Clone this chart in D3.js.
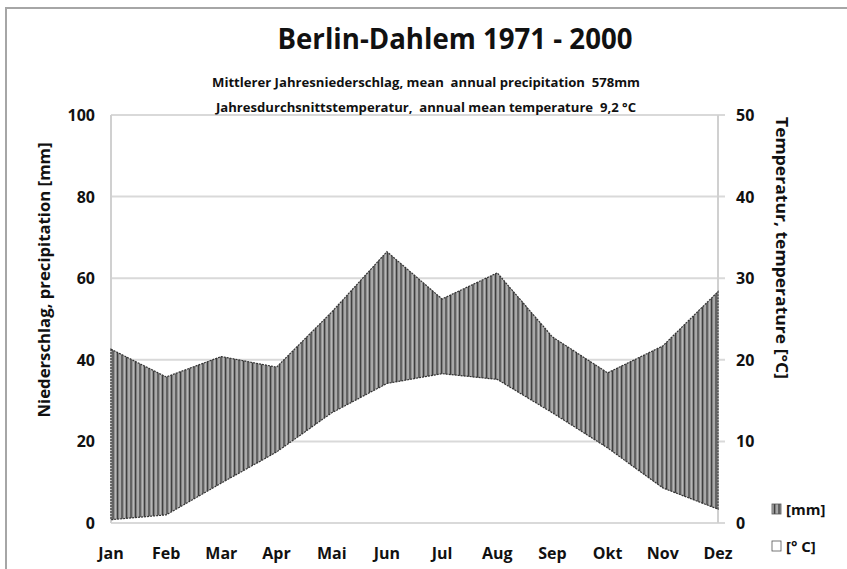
<!DOCTYPE html>
<html>
<head>
<meta charset="utf-8">
<script src="https://cdn.jsdelivr.net/npm/d3@7"></script>
<style>
body { margin: 0; background: #fff; }
svg text { font-family: "Open Sans", "DejaVu Sans", sans-serif; font-weight: bold; fill: #111; white-space: pre; }
</style>
</head>
<body>
<svg id="chart" width="847" height="569"></svg>
<script>
var months = ["Jan", "Feb", "Mar", "Apr", "Mai", "Jun", "Jul", "Aug", "Sep", "Okt", "Nov", "Dez"];
var precip = [42.6, 35.8, 40.8, 38.2, 51.7, 66.5, 54.9, 61.3, 45.6, 36.8, 43.4, 56.7];
var temp = [0.4, 1.0, 4.9, 8.7, 13.5, 17.1, 18.3, 17.6, 13.5, 9.2, 4.3, 1.7];
var precipTicks = [0, 20, 40, 60, 80, 100];
var tempTicks = [0, 10, 20, 30, 40, 50];

var svg = d3.select("#chart");
var pLeft = 111, pRight = 718, pTop = 115, pBottom = 523;

var x = d3.scalePoint().domain(months).range([pLeft, pRight]);
var yP = d3.scaleLinear().domain([0, 100]).range([pBottom, pTop]);
var yT = d3.scaleLinear().domain([0, 50]).range([pBottom, pTop]);

// frame
svg.append("rect")
	.attr("x", 6).attr("y", 8)
	.attr("width", 900).attr("height", 700)
	.attr("fill", "none")
	.attr("stroke", "#a6a6a6")
	.attr("stroke-width", 2);

// hatch pattern
var defs = svg.append("defs");
var pat = defs.append("pattern")
	.attr("id", "hatch")
	.attr("patternUnits", "userSpaceOnUse")
	.attr("width", 4.5).attr("height", 10);
pat.append("rect").attr("width", 4.5).attr("height", 10).attr("fill", "#8c8c8c");
pat.append("rect").attr("x", 0).attr("width", 1.1).attr("height", 10).attr("fill", "#3c3c3c");
pat.append("rect").attr("x", 2.4).attr("width", 1).attr("height", 10).attr("fill", "#c8c8c8");

// gridlines
svg.append("g").selectAll("line")
	.data(precipTicks)
	.enter().append("line")
	.attr("x1", pLeft).attr("x2", pRight + 7)
	.attr("y1", function(d) { return yP(d); })
	.attr("y2", function(d) { return yP(d); })
	.attr("stroke", "#d9d9d9")
	.attr("stroke-width", 2);

svg.append("line")
	.attr("x1", pLeft).attr("x2", pLeft)
	.attr("y1", pTop).attr("y2", pBottom)
	.attr("stroke", "#d0d0d0").attr("stroke-width", 2);
svg.append("line")
	.attr("x1", pRight).attr("x2", pRight)
	.attr("y1", pTop).attr("y2", pBottom)
	.attr("stroke", "#d0d0d0").attr("stroke-width", 2);

// area between temperature and precipitation
var area = d3.area()
	.x(function(d, i) { return x(months[i]); })
	.y0(function(d, i) { return yT(temp[i]); })
	.y1(function(d, i) { return yP(precip[i]); });

svg.append("path")
	.datum(precip)
	.attr("d", area)
	.attr("fill", "url(#hatch)")
	.attr("stroke", "#333")
	.attr("stroke-width", 1.2)
	.attr("stroke-dasharray", "2,1");

// left axis labels
svg.append("g").selectAll("text")
	.data(precipTicks)
	.enter().append("text")
	.attr("x", 95)
	.attr("y", function(d) { return yP(d) + 6; })
	.attr("text-anchor", "end")
	.attr("font-size", 16)
	.text(function(d) { return d; });

// right axis labels
svg.append("g").selectAll("text")
	.data(tempTicks)
	.enter().append("text")
	.attr("x", 736)
	.attr("y", function(d) { return yT(d) + 6; })
	.attr("font-size", 16)
	.text(function(d) { return d; });

// month labels
svg.append("g").selectAll("text")
	.data(months)
	.enter().append("text")
	.attr("x", function(d) { return x(d); })
	.attr("y", 559)
	.attr("text-anchor", "middle")
	.attr("font-size", 16)
	.text(function(d) { return d; });

// titles
svg.append("text")
	.attr("x", 455).attr("y", 49)
	.attr("text-anchor", "middle")
	.attr("font-size", 28)
	.attr("textLength", 355).attr("lengthAdjust", "spacingAndGlyphs")
	.text("Berlin-Dahlem 1971 - 2000");
svg.append("text")
	.attr("x", 426).attr("y", 87)
	.attr("text-anchor", "middle")
	.attr("font-size", 13)
	.attr("textLength", 428).attr("lengthAdjust", "spacingAndGlyphs")
	.text("Mittlerer Jahresniederschlag, mean  annual precipitation  578mm");
svg.append("text")
	.attr("x", 426).attr("y", 112)
	.attr("text-anchor", "middle")
	.attr("font-size", 13)
	.attr("textLength", 420).attr("lengthAdjust", "spacingAndGlyphs")
	.text("Jahresdurchsnittstemperatur,  annual mean temperature  9,2 °C");

svg.append("text")
	.attr("transform", "translate(50,280) rotate(-90)")
	.attr("text-anchor", "middle")
	.attr("font-size", 16)
	.attr("textLength", 275).attr("lengthAdjust", "spacingAndGlyphs")
	.text("Niederschlag, precipitation [mm]");
svg.append("text")
	.attr("transform", "translate(776,248) rotate(90)")
	.attr("text-anchor", "middle")
	.attr("font-size", 16)
	.attr("textLength", 262).attr("lengthAdjust", "spacingAndGlyphs")
	.text("Temperatur, temperature [°C]");

// legend
svg.append("rect")
	.attr("x", 772).attr("y", 504).attr("width", 9).attr("height", 10)
	.attr("fill", "url(#hatch)").attr("stroke", "#555").attr("stroke-width", 0.8);
svg.append("text").attr("x", 786).attr("y", 515).attr("font-size", 15).text("[mm]");
svg.append("rect")
	.attr("x", 772).attr("y", 541).attr("width", 9).attr("height", 10)
	.attr("fill", "#fff").attr("stroke", "#555").attr("stroke-width", 0.8);
svg.append("text").attr("x", 786).attr("y", 552).attr("font-size", 15).text("[° C]");
</script>
</body>
</html>
